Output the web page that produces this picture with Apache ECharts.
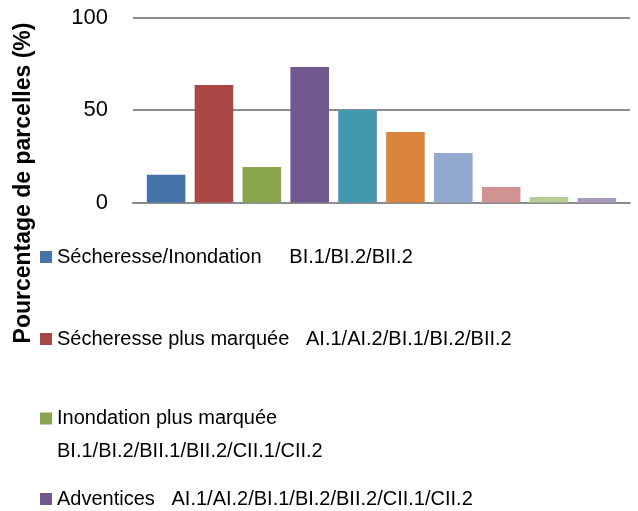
<!DOCTYPE html>
<html>
<head>
<meta charset="utf-8">
<script src="https://cdn.jsdelivr.net/npm/echarts@6/dist/echarts.min.js"></script>
<style>
html,body{margin:0;padding:0;background:#fff;}
#c{width:638px;height:511px;}
</style>
</head>
<body>
<div id="c"></div>
<script>
const categories = ['Parcelles'];
const seriesNames = [
  'Sécheresse/Inondation     BI.1/BI.2/BII.2',
  'Sécheresse plus marquée   AI.1/AI.2/BI.1/BI.2/BII.2',
  'Inondation plus marquée\nBI.1/BI.2/BII.1/BII.2/CII.1/CII.2',
  'Adventices   AI.1/AI.2/BI.1/BI.2/BII.2/CII.1/CII.2',
  'Série 5', 'Série 6', 'Série 7', 'Série 8', 'Série 9', 'Série 10'
];
const seriesValues = [15, 63.5, 19.2, 73.2, 50, 38.1, 26.8, 8.4, 3.0, 2.4];
const seriesColors = ['#4572A7','#AA4643','#89A54E','#71588F','#4198AF','#DB843D','#93A9CF','#D19392','#B9CD96','#A99BBD'];
const yTicks = { min: 0, max: 100, interval: 50 };
const yTitle = 'Pourcentage de parcelles (%)';

const font = 'Liberation Sans, Arial, sans-serif';
const chart = echarts.init(document.getElementById('c'), null, {renderer:'canvas'});

const legendTops = [247, 329, 369, 489];
const legends = [0,1,2,3].map(function(i){
  const l = {
    data: [seriesNames[i]],
    left: 40,
    top: legendTops[i],
    padding: 0,
    itemWidth: 12,
    itemHeight: 12,
    icon: 'rect',
    selectedMode: false,
    textStyle: {fontFamily: font, fontSize: 20, color: '#000'}
  };
  if (i === 2) {
    l.textStyle.lineHeight = 33;
    l.formatter = function(n){ return ' \n' + n; };
  }
  return l;
});

chart.setOption({
  animation: false,
  grid: {left: 133, right: 8, top: 17.5, bottom: 308.5, containLabel: false},
  legend: legends,
  graphic: [{
    type: 'text',
    x: 24, y: 183,
    rotation: Math.PI/2,
    style: {
      text: yTitle,
      font: 'bold 23px ' + font,
      fill: '#000',
      align: 'center',
      verticalAlign: 'middle'
    }
  }],
  xAxis: {
    type: 'category',
    data: categories,
    axisLine: {show: true, lineStyle: {color: '#8c8c8c', width: 2}},
    axisTick: {show: false},
    axisLabel: {show: false}
  },
  yAxis: {
    type: 'value',
    min: yTicks.min, max: yTicks.max, interval: yTicks.interval,
    axisLine: {show: false},
    axisTick: {show: false},
    axisLabel: {fontFamily: font, fontSize: 22, color: '#000', margin: 25},
    splitLine: {lineStyle: {color: '#8c8c8c', width: 2}}
  },
  series: seriesNames.map(function(n, i){
    return {
      type: 'bar',
      name: n,
      data: [seriesValues[i]],
      barWidth: 38.6,
      barGap: '24%',
      itemStyle: {color: seriesColors[i]}
    };
  })
});
</script>
</body>
</html>
